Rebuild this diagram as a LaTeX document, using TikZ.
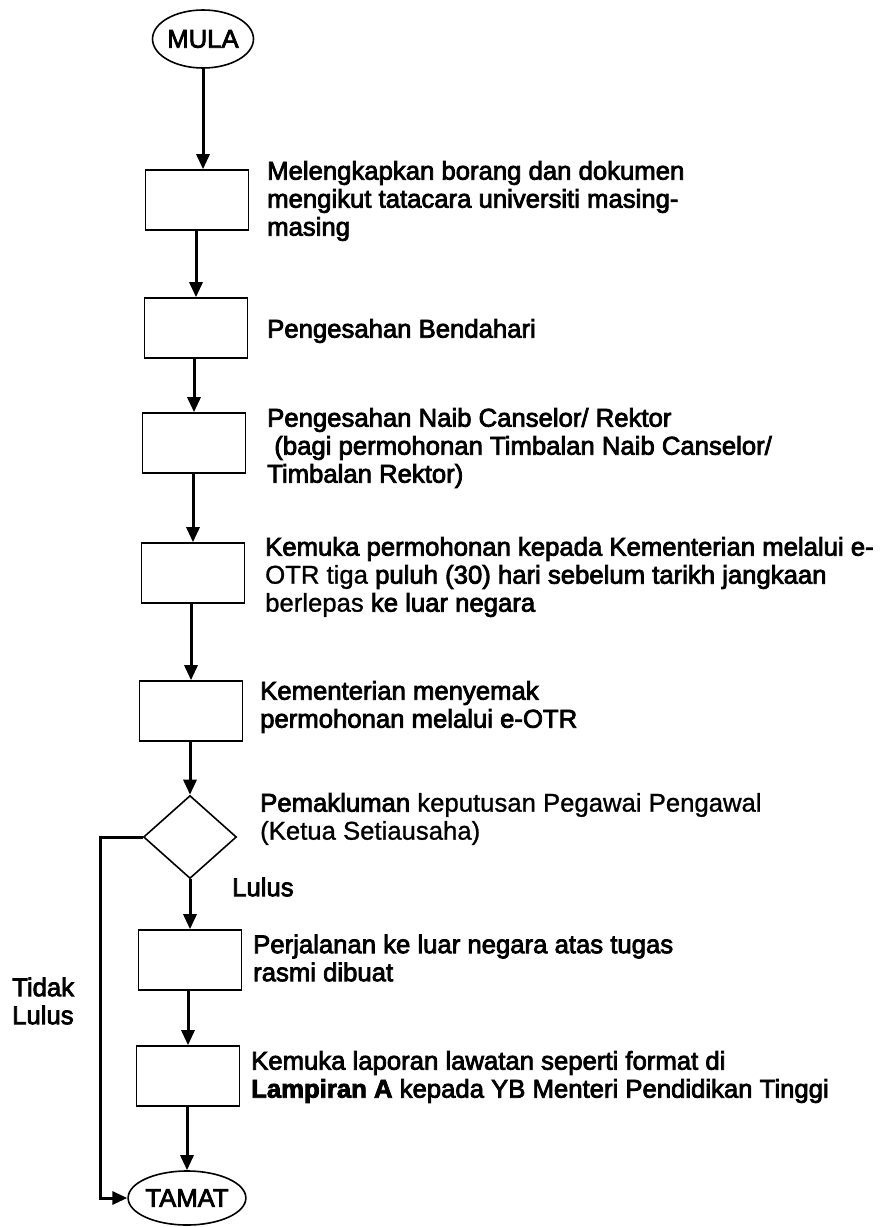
\documentclass[tikz,border=0pt]{standalone}
\usepackage{fontspec}
\setmainfont{Liberation Sans}[FakeBold=3]
\newfontfamily\lite{Liberation Sans}[FakeBold=1]
\usetikzlibrary{shapes.geometric,arrows.meta}
\begin{document}
\begin{tikzpicture}[x=1pt,y=-1pt,
  every node/.style={font=\fontsize{25.7}{28}\selectfont},
  proc/.style={draw,line width=1.6pt,minimum width=103pt,minimum height=60pt,inner sep=0},
  term/.style={draw,ellipse,line width=1.6pt,inner sep=0},
  dec/.style={draw,diamond,line width=1.6pt,minimum width=93pt,minimum height=83pt,inner sep=0},
  lbl/.style={anchor=west,align=left,inner sep=0},
  arr/.style={line width=3pt,-{Triangle[length=15pt,width=13pt]}}]
\useasboundingbox[fill=white] (0,0) rectangle (882,1227);

% shapes
\node[term,minimum width=93pt,minimum height=58pt] (mula) at (203,39) {MULA};
\node[proc] (b1) at (197,200) {};
\node[proc] (b2) at (196,328) {};
\node[proc] (b3) at (194,443) {};
\node[proc] (b4) at (193,573) {};
\node[proc] (b5) at (191,711) {};
\node[dec] (dia) at (190,837) {};
\node[proc] (b6) at (190,960) {};
\node[proc] (b7) at (188,1076) {};
\node[term,minimum width=93pt,minimum height=54pt] (tamat) at (187,1198) {TAMAT};

% texts
\node[lbl] (t1) at (267,201) {Melengkapkan borang dan dokumen\\mengikut tatacara universiti masing-\\masing};
\node[lbl] (t2) at (267,331) {Pengesahan Bendahari};
\node[lbl] (t3) at (267,448) {Pengesahan Naib Canselor/ Rektor\\\ (bagi permohonan Timbalan Naib Canselor/\\Timbalan Rektor)};
\node[lbl] (t4) at (265,577) {Kemuka permohonan kepada Kementerian melalui e-\\{\lite OTR tiga} puluh (30) hari sebelum tarikh jangkaan\\{\lite berlepas} ke luar negara};
\node[lbl] (t5) at (260,707) {Kementerian menyemak\\permohonan melalui e-OTR};
\node[lbl] (td) at (260,819) {Pemakluman {\lite keputusan Pegawai Pengawal}\\{\lite (Ketua Setiausaha)}};
\node[lbl] (lulus) at (232,887) {Lulus};
\node[lbl] (t6) at (253,958) {Perjalanan ke luar negara atas tugas\\rasmi dibuat};
\node[lbl] (t7) at (251,1077) {Kemuka laporan lawatan seperti format di\\\textbf{Lampiran A} kepada YB Menteri Pendidikan Tinggi};
\node[lbl] (tl) at (12,1001) {Tidak\\Lulus};

% connectors
\draw[arr] (mula) -- (mula |- b1.north);
\draw[arr] (b1.south -| b2) -- (b2.north);
\draw[arr] (b2.south -| b3) -- (b3.north);
\draw[arr] (b3.south -| b4) -- (b4.north);
\draw[arr] (b4.south -| b5) -- (b5.north);
\draw[arr] (b5.south -| dia) -- (dia.north);
\draw[arr] (dia.south) -- (dia.south |- b6.north);
\draw[arr] (b6.south -| b7) -- (b7.north);
\draw[arr] (b7.south -| tamat) -- (tamat.north);
\coordinate (corner) at (100,837);
\draw[arr] (dia.west) -- (corner) |- (tamat.west);
\end{tikzpicture}
\end{document}
